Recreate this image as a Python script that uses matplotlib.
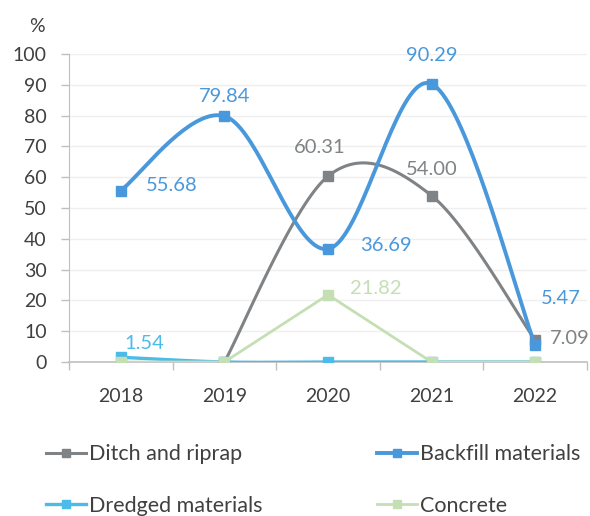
import numpy as np
import matplotlib
matplotlib.use("Agg")
import matplotlib.pyplot as plt
from matplotlib.lines import Line2D

plt.rcParams['font.family'] = ['Lato', 'DejaVu Sans']

# data
years = ['2018', '2019', '2020', '2021', '2022']
ditch = [np.nan, 0.0, 60.31, 54.00, 7.09]
backfill = [55.68, 79.84, 36.69, 90.29, 5.47]
dredged = [1.54, 0.0, 0.0, 0.0, 0.0]
concrete = [0.0, 0.0, 21.82, 0.0, 0.0]


def smooth(xs, ys, n=40):
    # excel style bezier smoothing through the points
    pts = [(x, y) for x, y in zip(xs, ys) if not np.isnan(y)]
    pts = np.array(pts, dtype=float)
    outx, outy = [], []
    for i in range(len(pts) - 1):
        p0 = pts[i - 1] if i > 0 else pts[i]
        p1 = pts[i]
        p2 = pts[i + 1]
        p3 = pts[i + 2] if i + 2 < len(pts) else pts[i + 1]
        c1 = p1 + (p2 - p0) / 6
        c2 = p2 - (p3 - p1) / 6
        t = np.linspace(0, 1, n)[:, None]
        b = (1 - t) ** 3 * p1 + 3 * (1 - t) ** 2 * t * c1 + 3 * (1 - t) * t ** 2 * c2 + t ** 3 * p2
        outx.extend(b[:, 0])
        outy.extend(b[:, 1])
    return outx, outy


fig = plt.figure(figsize=(5.9, 5.16), dpi=100)
ax = fig.add_axes([69 / 590, 1 - 362 / 516, (587 - 69) / 590, (362 - 54) / 516])

x = np.arange(len(years))
c_ditch = '#7f8385'
c_back = '#4a98dc'
c_dred = '#4bbbea'
c_conc = '#c5dfb4'
c_text = '#404040'

# ditch and riprap
sx, sy = smooth(x, ditch)
ax.plot(sx, sy, color=c_ditch, lw=2.2, zorder=3)
ax.plot(x, ditch, 's', color=c_ditch, ms=7, zorder=3)
# backfill
sx, sy = smooth(x, backfill)
ax.plot(sx, sy, color=c_back, lw=2.8, zorder=4)
ax.plot(x, backfill, 's', color=c_back, ms=7, zorder=4)
# dredged
sx, sy = smooth(x, dredged)
ax.plot(sx, sy, color=c_dred, lw=2.4, zorder=5)
ax.plot(x, dredged, 's', color=c_dred, ms=7, zorder=5)
# concrete (straight)
ax.plot(x, concrete, color=c_conc, lw=2.0, marker='s', ms=7, zorder=6)

# data labels
fs = 14.5
def lab(xi, yi, txt, col, dx, dy, ha='center'):
    ax.annotate(txt, (xi, yi), xytext=(dx, dy), textcoords='offset pixels',
                ha=ha, va='center', color=col, fontsize=fs, zorder=10)

lab(0, backfill[0], '55.68', c_back, 25, 5, 'left')
lab(1, backfill[1], '79.84', c_back, 0, 20)
lab(2, backfill[2], '36.69', c_back, 32, 3, 'left')
lab(3, backfill[3], '90.29', c_back, 0, 28)
lab(4, backfill[4], '5.47', c_back, 6, 47, 'left')
lab(2, ditch[2], '60.31', c_ditch, -8, 29)
lab(3, ditch[3], '54.00', c_ditch, 0, 26)
lab(4, ditch[4], '7.09', c_ditch, 15, 2, 'left')
lab(0, dredged[0], '1.54', c_dred, 4, 14, 'left')
lab(2, concrete[2], '21.82', c_conc, 22, 6, 'left')

ax.set_xlim(-0.5, len(years) - 0.5)
ax.set_ylim(0, 100)
ax.set_yticks(np.arange(0, 101, 10))
ax.set_xticks(x)
ax.set_xticklabels(years)
ax.set_xticks(np.arange(-0.5, len(years), 1), minor=True)
ax.tick_params(axis='x', which='major', length=0, pad=19, labelsize=14, labelcolor=c_text)
ax.tick_params(axis='x', which='minor', length=6, color='#bfbfbf', width=1)
ax.tick_params(axis='y', length=6, color='#bfbfbf', width=1, pad=10, labelsize=14, labelcolor=c_text)
ax.grid(axis='y', color='#efefef', lw=1)
ax.set_axisbelow(True)
for s in ['top', 'right']:
    ax.spines[s].set_visible(False)
ax.spines['left'].set_color('#bfbfbf')
ax.spines['bottom'].set_color('#bfbfbf')
ax.spines['bottom'].set_linewidth(1.2)

fig.text(37 / 590, 1 - 26 / 516, '%', ha='center', va='center', fontsize=14, color=c_text)

# legend, two columns placed separately
h_ditch = Line2D([], [], color=c_ditch, lw=2.2, marker='s', ms=6)
h_dred = Line2D([], [], color=c_dred, lw=2.4, marker='s', ms=6)
h_back = Line2D([], [], color=c_back, lw=2.8, marker='s', ms=6)
h_conc = Line2D([], [], color=c_conc, lw=2.0, marker='s', ms=6)
leg_kw = dict(loc='center left', frameon=False, fontsize=15.5, handlelength=1.85,
              handletextpad=0.15, labelspacing=1.45, borderpad=0, borderaxespad=0)
leg1 = fig.legend([h_ditch, h_dred], ['Ditch and riprap', 'Dredged materials'],
                  bbox_to_anchor=(46 / 590, 1 - 480 / 516), **leg_kw)
leg2 = fig.legend([h_back, h_conc], ['Backfill materials', 'Concrete'],
                  bbox_to_anchor=(377 / 590, 1 - 480 / 516), **leg_kw)
for leg in (leg1, leg2):
    for t in leg.get_texts():
        t.set_color(c_text)

fig.savefig('out.png', dpi=100)
